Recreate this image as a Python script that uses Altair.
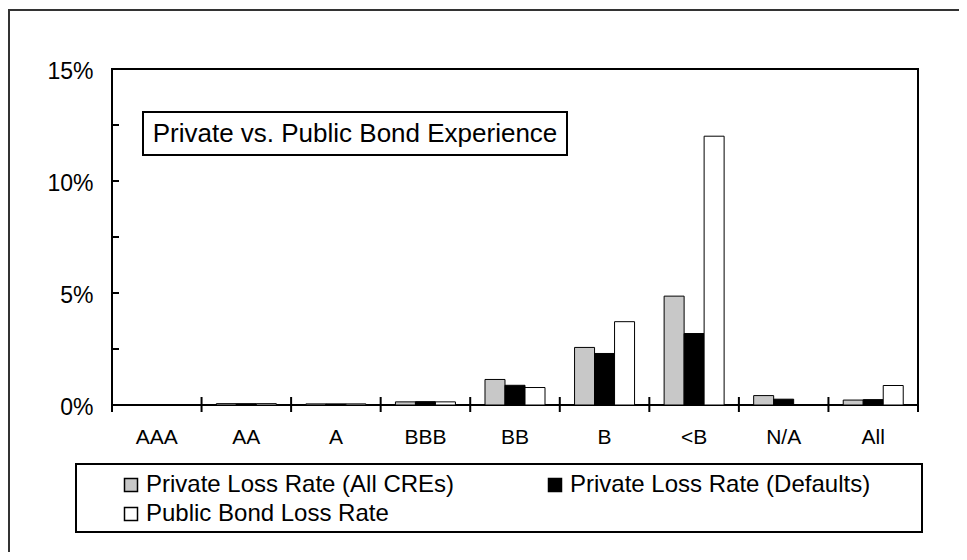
import altair as alt
import pandas as pd

# ---- data ----
categories = ["AAA", "AA", "A", "BBB", "BB", "B", "<B", "N/A", "All"]
series = ["Private Loss Rate (All CREs)", "Private Loss Rate (Defaults)", "Public Bond Loss Rate"]
private_all = [0.0, 0.06, 0.05, 0.14, 1.14, 2.57, 4.86, 0.42, 0.22]
private_def = [0.0, 0.06, 0.05, 0.15, 0.88, 2.30, 3.19, 0.26, 0.24]
public_bond = [0.0, 0.06, 0.05, 0.14, 0.78, 3.72, 12.00, 0.0, 0.87]
colors = ["#C8C8C8", "#000000", "#FFFFFF"]
y_labels = [0, 5, 10, 15]
y_inner_ticks = [2.5, 5, 7.5, 10, 12.5]
title_text = ["Private vs. Public Bond Experience"]

rows = []
for i, c in enumerate(categories):
    for s, vals in zip(series, [private_all, private_def, public_bond]):
        rows.append({"rating": c, "series": s, "rate": vals[i]})
df = pd.DataFrame(rows)

W, H = 806, 336
FONT = "Liberation Sans"
one = pd.DataFrame({"t": title_text})

y_axis = alt.Axis(values=y_labels, labelExpr="datum.value + '%'", title=None,
                  ticks=False, tickSize=0, domain=False, grid=False, labelOffset=2,
                  labelPadding=19, labelFontSize=23, labelFont=FONT, labelColor="black")
y_scale = alt.Scale(domain=[0, 15], nice=False)

outer_frame = alt.Chart(one).mark_rect(fillOpacity=0, stroke="#333333", strokeWidth=2).encode(
    x=alt.value(-103), x2=alt.value(1000), y=alt.value(-59), y2=alt.value(800)
)

bars = alt.Chart(df).mark_bar(stroke="black", strokeWidth=1).encode(
    x=alt.X(
        "rating:N", sort=categories,
        scale=alt.Scale(paddingInner=0.33, paddingOuter=0.165),
        axis=alt.Axis(title=None, labelAngle=0, ticks=False, tickSize=0, domain=False,
                      grid=False, labelPadding=21, labelFontSize=21, labelFont=FONT,
                      labelColor="black"),
    ),
    xOffset=alt.XOffset("series:N", sort=series,
                        scale=alt.Scale(paddingInner=0, paddingOuter=0)),
    y=alt.Y("rate:Q", scale=y_scale, axis=y_axis),
    fill=alt.Fill(
        "series:N", sort=series,
        scale=alt.Scale(domain=series, range=colors),
        legend=alt.Legend(orient="none", legendX=7, legendY=404, columns=2,
                          direction="horizontal", title=None,
                          symbolType="square", symbolSize=169, symbolStrokeColor="black",
                          symbolStrokeWidth=1.5,
                          labelFontSize=24, labelFont=FONT, labelColor="black",
                          labelLimit=0, labelOffset=3, columnPadding=88, rowPadding=5,
                          padding=0),
    ),
)

ytick_df = pd.DataFrame({"rate": y_inner_ticks})
yticks = alt.Chart(ytick_df).mark_rule(color="black", strokeWidth=2).encode(
    y=alt.Y("rate:Q", scale=y_scale, axis=y_axis), x=alt.value(0), x2=alt.value(7)
)

xtick_df = pd.DataFrame({"b": list(range(len(categories) + 1))})
xticks = alt.Chart(xtick_df).mark_rule(color="black", strokeWidth=2).encode(
    x=alt.X("b:Q", scale=alt.Scale(domain=[0, len(categories)], nice=False, zero=False), axis=None),
    y=alt.value(H - 8), y2=alt.value(H + 7),
)

title_box = alt.Chart(one).mark_rect(fill="white", stroke="black", strokeWidth=2).encode(
    x=alt.value(31), x2=alt.value(455), y=alt.value(43), y2=alt.value(86)
)
title_label = alt.Chart(one).mark_text(font=FONT, fontSize=26, align="center",
                                       baseline="middle", color="black").encode(
    text="t:N", x=alt.value(243), y=alt.value(65)
)

legend_box = alt.Chart(one).mark_rect(fillOpacity=0, stroke="black", strokeWidth=2).encode(
    x=alt.value(-36), x2=alt.value(810), y=alt.value(395), y2=alt.value(463)
)

chart = alt.layer(
    outer_frame, bars, yticks, xticks, title_box, title_label, legend_box
).resolve_scale(x="independent").properties(
    width=W, height=H,
    padding={"left": 104, "top": 61, "right": 41, "bottom": 147},
    autosize=alt.AutoSizeParams(type="none"),
    background="white",
).configure_view(stroke="black", strokeWidth=2)

chart.save("out.html", embed_options={"renderer": "svg", "actions": False})
